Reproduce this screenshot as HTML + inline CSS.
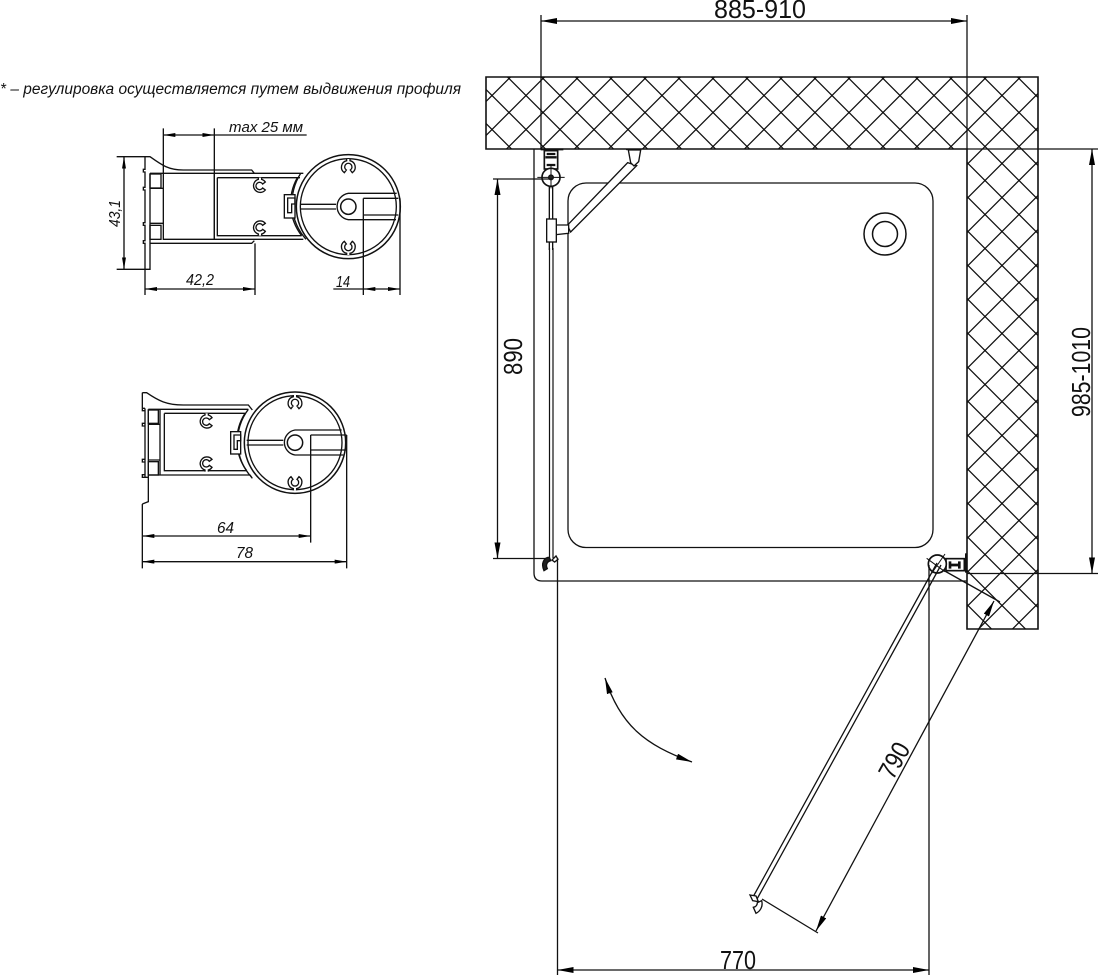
<!DOCTYPE html>
<html><head><meta charset="utf-8"><style>
html,body{margin:0;padding:0;background:#fff;width:1100px;height:977px;overflow:hidden}
svg{display:block}
text{font-family:"Liberation Sans",sans-serif;fill:#111}
.it{font-style:italic}
</style></head><body>
<svg width="1100" height="977" viewBox="0 0 1100 977" xmlns="http://www.w3.org/2000/svg">
<defs>
<pattern id="h" patternUnits="userSpaceOnUse" x="509" y="78.500" width="34" height="34">
<path d="M0 0L34 34M0 34L34 0" stroke="#111" stroke-width="1.3" fill="none"/>
</pattern>
<marker id="a" markerUnits="userSpaceOnUse" viewBox="0 0 16 6" refX="16" refY="3" markerWidth="16" markerHeight="6" orient="auto-start-reverse"><path d="M0 0L16 3L0 6Z" fill="#000"/></marker>
<marker id="d" markerUnits="userSpaceOnUse" viewBox="0 0 36 12" refX="36" refY="6" markerWidth="36" markerHeight="12" orient="auto-start-reverse"><path d="M0 0L36 6L0 12Z" fill="#000"/></marker>
<path id="cd" d="M-5,-25V-20A20 20 0 0 0 -12 16L-6 8A11 11 0 1 1 6 8L12 16A20 20 0 0 0 5 -20V-25" fill="#fff" stroke="#111" stroke-width="4"/>
<path id="cr" d="M-5,-25V-20A20 20 0 1 0 16 12L8 6A11 11 0 1 1 8 -6L16 -12A20 20 0 0 0 5 -20V-25" fill="#fff" stroke="#111" stroke-width="4"/>
</defs>
<rect width="1100" height="977" fill="#fff"/>

<!-- walls -->
<path d="M486 77H1038V629H967V149H486Z" fill="url(#h)" stroke="#111" stroke-width="1.600"/>
<path d="M967 77V149" stroke="#111" stroke-width="1.300"/>

<!-- tray -->
<path d="M534 149V573Q534 581 542 581H967" fill="none" stroke="#111" stroke-width="1.300"/>
<rect x="568" y="183" width="365" height="364.500" rx="18" fill="#fff" stroke="#111" stroke-width="1.300"/>
<circle cx="885" cy="234" r="21" fill="#fff" stroke="#111" stroke-width="1.500"/>
<circle cx="885" cy="234" r="12.500" fill="#fff" stroke="#111" stroke-width="1.500"/>

<!-- top-left hinge / strut (zoom coords) -->
<g transform="translate(480 70) scale(.33333)" fill="#fff" stroke="#111" stroke-width="4">
<path d="M182 238H250" stroke-width="6"/>
<rect x="193" y="242" width="40" height="55" stroke-width="5"/>
<path d="M196 262H230M200 252H226M200 285H226" stroke-width="7"/>
<path d="M208 340V540M218 340V540"/>
<path d="M262 466L443 278L470 287L272 486Z"/>
<path d="M445 240H482L476 275L462 288L452 278Z"/>
<path d="M438 238H484" stroke-width="5"/>
<path d="M228 465H266V490L228 494Z"/>
<rect x="200" y="447" width="29" height="69"/>
<circle cx="213" cy="322" r="27" stroke-width="5"/>
<path d="M172 322H254M213 285V355" stroke-width="3"/>
<circle cx="213" cy="322" r="7" fill="#222"/>
</g>

<!-- left door panel lower part -->
<path d="M549.500 248V558M553 248V558" stroke="#111" stroke-width="1.200" fill="none"/>

<!-- bottom-left clip -->
<g transform="translate(520 530) scale(.33333)">
<path d="M88 82C72 82 62 100 72 122L82 116C76 104 82 94 92 92Z" fill="#222" stroke="#111" stroke-width="4"/>
<path d="M96 90L108 78L114 88L104 96Z" fill="#fff" stroke="#111" stroke-width="4"/>
</g>

<!-- right hinge -->
<g transform="translate(900 530) scale(.33333)" fill="#fff" stroke="#111" stroke-width="4">
<rect x="138" y="86" width="55" height="36" stroke-width="5"/>
<path d="M150 94V116M178 94V116M150 105H178" stroke-width="8"/>
<path d="M198 70V128" stroke-width="6"/>
<circle cx="112" cy="102" r="27" stroke-width="5"/>
<path d="M80 85L135 125M135 72L95 130" stroke-width="3"/>
</g>

<!-- door open -->
<path d="M937 563L753 897M941 565L757 899" stroke="#111" stroke-width="1.300" fill="none"/>
<g transform="translate(730 870) scale(.33333)" fill="#fff" stroke="#111" stroke-width="4">
<path d="M60 75L78 78L85 95L68 92Z"/>
<path d="M95 92C100 110 90 124 78 130L70 112C80 110 82 104 82 98Z"/>
</g>

<!-- rotation arrow -->
<path d="M605 678C620 725 645 745 692 762" fill="none" stroke="#111" stroke-width="1.300" marker-start="url(#a)" marker-end="url(#a)"/>

<!-- main dimensions -->
<g fill="none" stroke="#111" stroke-width="1.300">
<path d="M541 15V149M967 15V77"/>
<path d="M541 21H967" marker-start="url(#a)" marker-end="url(#a)"/>
<path d="M967 149H1098M967 573.500H1098"/>
<path d="M1092 149V573.500" marker-start="url(#a)" marker-end="url(#a)"/>
<path d="M493 179H552M493 558.500H546"/>
<path d="M497.500 179V558.500" marker-start="url(#a)" marker-end="url(#a)"/>
<path d="M557.500 558V975M929 565V975"/>
<path d="M557.500 970H929" marker-start="url(#a)" marker-end="url(#a)"/>
<path d="M943 570L1000 602M762 899L818 933"/>
<path d="M994 601L816 931" marker-start="url(#a)" marker-end="url(#a)"/>
</g>
<text x="714" y="18" font-size="26" textLength="92" lengthAdjust="spacingAndGlyphs">885-910</text>
<text transform="translate(1090 417) rotate(-90)" font-size="26" textLength="90" lengthAdjust="spacingAndGlyphs">985-1010</text>
<text transform="translate(522 375) rotate(-90)" font-size="26" textLength="37" lengthAdjust="spacingAndGlyphs">890</text>
<text x="720" y="969" font-size="26" textLength="36" lengthAdjust="spacingAndGlyphs">770</text>
<text transform="translate(893 781) rotate(-61)" font-size="26" textLength="37" lengthAdjust="spacingAndGlyphs">790</text>

<!-- note -->
<text class="it" x="0" y="94" font-size="15.500" textLength="461" lengthAdjust="spacingAndGlyphs">* – регулировка осуществляется путем выдвижения профиля</text>

<!-- DETAIL 1 -->
<g transform="translate(100 110) scale(.33333)" fill="none" stroke="#111" stroke-width="4">
<path d="M135 140H150C185 165 205 180 250 180H455L463 190M150 190H610M190 388H610M150 400H455L463 392"/>
<path d="M135 140V178H130V186H135V232H130V240H135V338H130V346H135V392H130V400H135V478H150V400M150 190V400"/>
<path d="M150 235H190M150 340H190"/>
<rect x="150" y="192" width="33" height="42"/><rect x="150" y="346" width="33" height="42"/>
<path d="M190 190V390M343 190V390M352 203H600M352 203V377H605"/>
<path d="M602 190A165 165 0 0 0 618 388"/>
<path d="M592 203A158 158 0 0 0 605 377"/>
<circle cx="745" cy="290" r="156" stroke-width="4.500"/>
<circle cx="745" cy="290" r="144"/>
<rect x="553" y="254" width="32" height="70" fill="#fff"/>
<path d="M563 264H585V282H575V308H563Z"/>
<path d="M600 283H708M600 297H708"/>
<path d="M890 250H745A40 40 0 0 0 745 329H888M790 265H895M790 315H895"/>
<circle cx="745" cy="290" r="23" stroke-width="4.500"/>
<use href="#cr" x="480" y="228"/>
<use href="#cr" transform="translate(480 352) scale(1 -1)"/>
<use href="#cd" x="745" y="172"/>
<use href="#cd" transform="translate(745 410) scale(1 -1)"/>
<!-- dims -->
<path d="M190 55V190M343 55V390M343 75H620"/>
<path d="M190 75H343" marker-start="url(#d)" marker-end="url(#d)"/>
<path d="M50 140H135M50 478H135"/>
<path d="M72 140V478" marker-start="url(#d)" marker-end="url(#d)"/>
<path d="M135 478V555M465 400V555M790 265V555M900 265V555M700 537H790"/>
<path d="M135 537H465" marker-start="url(#d)" marker-end="url(#d)"/>
<path d="M790 537H900" marker-start="url(#d)" marker-end="url(#d)"/>
</g>
<text class="it" x="229" y="132" font-size="15" textLength="74" lengthAdjust="spacingAndGlyphs">max 25 мм</text>
<text class="it" transform="translate(120 227) rotate(-90)" font-size="16" textLength="27" lengthAdjust="spacingAndGlyphs">43,1</text>
<text class="it" x="186" y="285" font-size="16" textLength="28" lengthAdjust="spacingAndGlyphs">42,2</text>
<text class="it" x="336" y="287" font-size="16" textLength="14" lengthAdjust="spacingAndGlyphs">14</text>

<!-- DETAIL 2 -->
<g transform="translate(120 380) scale(.33333)" fill="none" stroke="#111" stroke-width="4">
<path d="M67 38H80C115 62 140 75 190 75H385L397 90M85 88H385M85 285H390L397 295"/>
<path d="M67 38V85H75M67 85V92H75V130H67V138H75V238H67V246H75V284H67V292H85M75 85V292M85 88V365L67 372"/>
<path d="M85 133H120M85 240H120"/>
<rect x="85" y="90" width="30" height="40"/><rect x="85" y="245" width="30" height="40"/>
<path d="M120 88V285M133 100H375M133 100V272H380"/>
<path d="M385 88A160 160 0 0 0 395 292"/>
<path d="M375 100A152 152 0 0 0 380 272"/>
<circle cx="525" cy="188" r="152" stroke-width="4.500"/>
<circle cx="525" cy="188" r="141"/>
<rect x="332" y="155" width="30" height="67" fill="#fff"/>
<path d="M342 165H362V182H352V208H342Z"/>
<path d="M380 181H490M380 195H490"/>
<path d="M665 150H525A38 38 0 0 0 525 225H670M572 165H680M572 210H680"/>
<circle cx="525" cy="188" r="23" stroke-width="4.500"/>
<use href="#cr" x="260" y="125"/>
<use href="#cr" transform="translate(260 250) scale(1 -1)"/>
<use href="#cd" x="525" y="70"/>
<use href="#cd" transform="translate(525 306) scale(1 -1)"/>
<path d="M67 372V565M572 165V488M680 165V565"/>
<path d="M67 468H572" marker-start="url(#d)" marker-end="url(#d)"/>
<path d="M67 545H680" marker-start="url(#d)" marker-end="url(#d)"/>
</g>
<text class="it" x="217" y="533" font-size="16" textLength="17" lengthAdjust="spacingAndGlyphs">64</text>
<text class="it" x="236" y="558" font-size="16" textLength="17" lengthAdjust="spacingAndGlyphs">78</text>
</svg>
</body></html>
